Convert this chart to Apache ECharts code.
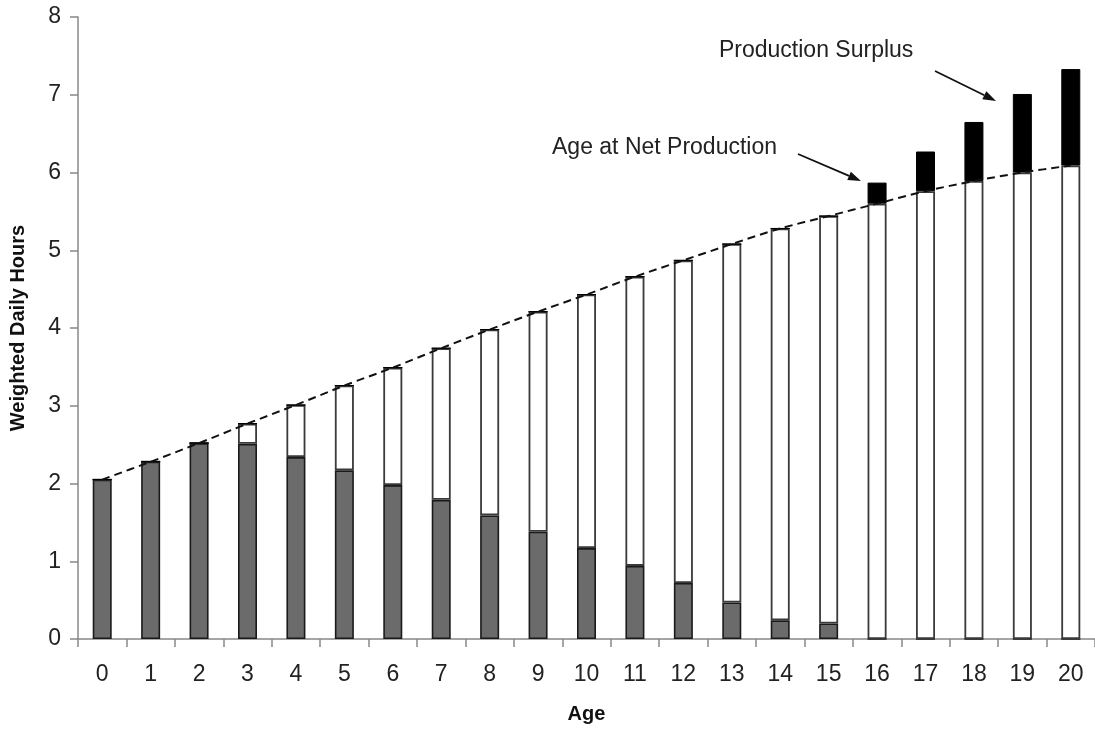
<!DOCTYPE html>
<html>
<head>
<meta charset="utf-8">
<script src="https://cdn.jsdelivr.net/npm/echarts@6/dist/echarts.min.js"></script>
<style>
html,body{margin:0;padding:0;background:#fff;}
#chart{width:1095px;height:733px;}
</style>
</head>
<body>
<div id="chart"></div>
<script>
// ---- data ----
var ages = ['0','1','2','3','4','5','6','7','8','9','10','11','12','13','14','15','16','17','18','19','20'];
// total consumption (dashed line / top of white bars)
var consumption = [2.05,2.28,2.52,2.77,3.01,3.26,3.49,3.74,3.98,4.21,4.43,4.66,4.87,5.08,5.28,5.44,5.60,5.76,5.89,6.00,6.09];
// own production below consumption (grey part of bars)
var ownProduction = [2.05,2.28,2.52,2.51,2.34,2.17,1.98,1.79,1.59,1.38,1.17,0.94,0.72,0.47,0.24,0.20,0,0,0,0,0];
// production surplus above consumption (black part of bars)
var surplus = [0,0,0,0,0,0,0,0,0,0,0,0,0,0,0,0,0.27,0.51,0.76,1.01,1.24];
var yTicks = [0,1,2,3,4,5,6,7,8];

// white part = consumption not covered by own production
var deficit = consumption.map(function(c, i){ return +(c - ownProduction[i]).toFixed(2); });

var FONT = '"Liberation Sans", Arial, sans-serif';
var chart = echarts.init(document.getElementById('chart'), null, {renderer:'canvas'});

function arrow(x1, y1, x2, y2) {
  var ang = Math.atan2(y2 - y1, x2 - x1);
  var L = 13, W = 4.5;
  var bx = x2 - L * Math.cos(ang), by = y2 - L * Math.sin(ang);
  var px = -Math.sin(ang) * W, py = Math.cos(ang) * W;
  return [
    {type:'line', shape:{x1:x1, y1:y1, x2:bx, y2:by}, style:{stroke:'#111', lineWidth:1.8}, z:100},
    {type:'polygon', shape:{points:[[x2,y2],[bx+px,by+py],[bx-px,by-py]]}, style:{fill:'#111'}, z:100}
  ];
}

var graphics = [
  {type:'text', left:552, top:136, style:{text:'Age at Net Production', font:'23px ' + FONT, fill:'#222'}, z:100},
  {type:'text', left:719, top:39, style:{text:'Production Surplus', font:'23px ' + FONT, fill:'#222'}, z:100}
].concat(arrow(798, 154, 861, 181)).concat(arrow(935, 71, 996, 101));

var option = {
  animation: false,
  backgroundColor: '#fff',
  grid: {left: 76, right: -2, top: 17, bottom: 94, containLabel: false},
  xAxis: {
    type: 'category',
    data: ages,
    boundaryGap: true,
    name: 'Age',
    nameLocation: 'middle',
    nameGap: 65,
    nameTextStyle: {fontFamily: FONT, fontSize: 20, fontWeight: 'bold', color: '#111'},
    axisLine: {show: true, lineStyle: {color: '#888', width: 1.5}},
    axisTick: {show: true, length: 8, lineStyle: {color: '#888', width: 1.5}},
    axisLabel: {fontFamily: FONT, fontSize: 23, color: '#222', margin: 24},
    splitLine: {show: false}
  },
  yAxis: {
    type: 'value',
    min: 0, max: 8, interval: 1,
    name: 'Weighted Daily Hours',
    nameLocation: 'middle',
    nameGap: 50,
    nameRotate: 90,
    nameTextStyle: {fontFamily: FONT, fontSize: 20, fontWeight: 'bold', color: '#111'},
    axisLine: {show: true, lineStyle: {color: '#888', width: 1.5}},
    axisTick: {show: true, length: 8, lineStyle: {color: '#888', width: 1.5}},
    axisLabel: {fontFamily: FONT, fontSize: 23, color: '#222', margin: 17,
      formatter: function(v){ return yTicks.indexOf(v) >= 0 ? String(v) : ''; }},
    splitLine: {show: false}
  },
  series: [
    {
      name: 'Own production', type: 'bar', stack: 'a', barWidth: 19,
      data: ownProduction,
      itemStyle: {color: '#6b6b6b', borderColor: '#1a1a1a', borderWidth: 1.6}
    },
    {
      name: 'Deficit', type: 'bar', stack: 'a', barWidth: 19,
      data: deficit,
      itemStyle: {color: '#ffffff', borderColor: '#3a3a3a', borderWidth: 1.8}
    },
    {
      name: 'Surplus', type: 'bar', stack: 'a', barWidth: 19,
      data: surplus,
      itemStyle: {color: '#000000', borderColor: '#000', borderWidth: 1}
    },
    {
      name: 'Consumption', type: 'line', data: consumption,
      symbol: 'none', smooth: 0.3, z: 10,
      lineStyle: {color: '#111', width: 2, type: [8, 5]}
    }
  ],
  graphic: graphics
};
chart.setOption(option);
</script>
</body>
</html>
